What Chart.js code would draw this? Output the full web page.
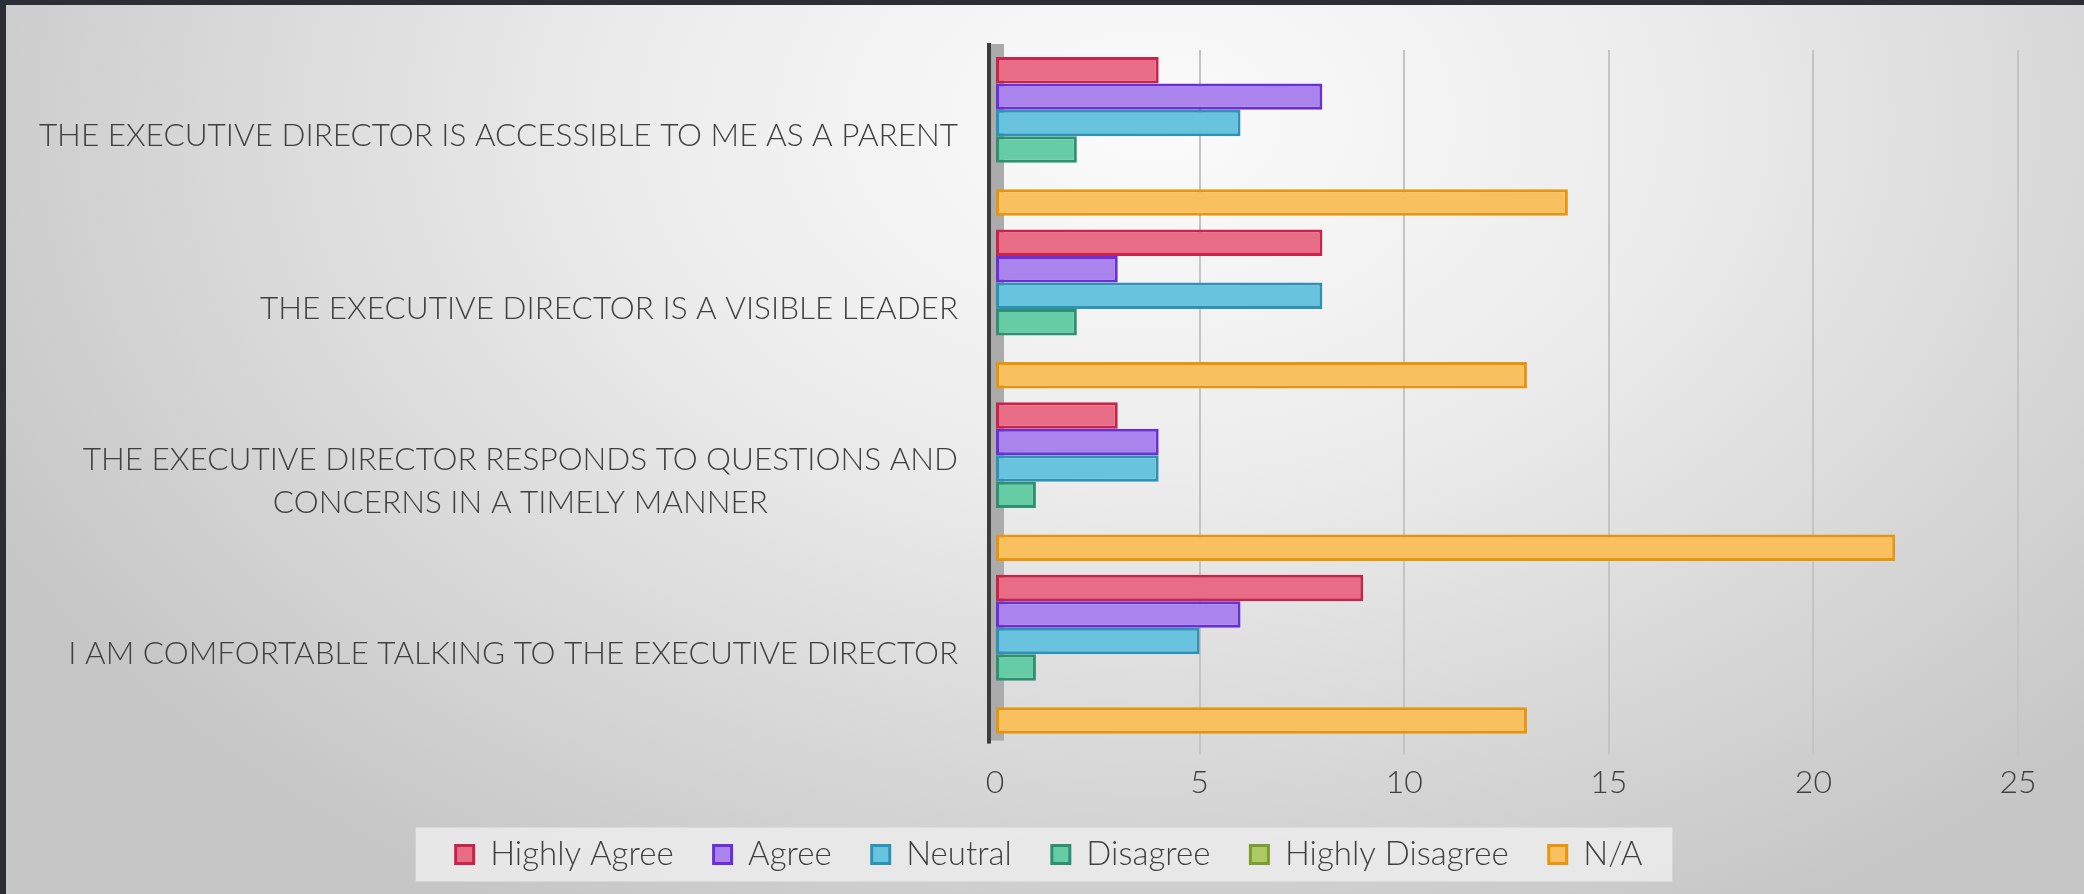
<!DOCTYPE html>
<html>
<head>
<meta charset="utf-8">
<script src="https://cdn.jsdelivr.net/npm/chart.js@4.4.1/dist/chart.umd.min.js"></script>
<style>
  html, body { margin: 0; padding: 0; overflow: hidden; }
  #wrap {
    position: relative; width: 2084px; height: 894px;
    background: radial-gradient(ellipse 1300px 900px at 1150px 120px, #fbfbfb 0%, #ececec 40%, #d6d6d6 75%, #c6c6c6 100%);
  }
  #frame-top { position: absolute; left: 0; top: 0; width: 2084px; height: 5px; background: #2b2e35; }
  #frame-left { position: absolute; left: 0; top: 0; width: 6px; height: 894px; background: #2b2e35; }
  canvas { position: absolute; left: 0; top: 0; }
</style>
</head>
<body>
<div id="wrap">
  <canvas id="chart" width="2084" height="894"></canvas>
  <div id="frame-top"></div>
  <div id="frame-left"></div>
</div>
<script>
// data
const categories = [
  'THE EXECUTIVE DIRECTOR IS ACCESSIBLE TO ME AS A PARENT',
  'THE EXECUTIVE DIRECTOR IS A VISIBLE LEADER',
  ['THE EXECUTIVE DIRECTOR RESPONDS TO QUESTIONS AND', 'CONCERNS IN A TIMELY MANNER'],
  'I AM COMFORTABLE TALKING TO THE EXECUTIVE DIRECTOR'
];
const seriesNames = ['Highly Agree', 'Agree', 'Neutral', 'Disagree', 'Highly Disagree', 'N/A'];
const highlyAgree    = [4, 8, 3, 9];
const agree          = [8, 3, 4, 6];
const neutral        = [6, 8, 4, 5];
const disagree       = [2, 2, 1, 1];
const highlyDisagree = [0, 0, 0, 0];
const notApplicable  = [14, 13, 22, 13];
const xMin = 0, xMax = 25, xStep = 5;

const fills   = ['#E96C87', '#A884EC', '#67C3DE', '#65CCA5', '#AACB64', '#F8C05F'];
const borders = ['#C8234A', '#6A2FD8', '#2E92B5', '#2E9070', '#7D9B2F', '#E5950F'];
const values  = [highlyAgree, agree, neutral, disagree, highlyDisagree, notApplicable];

const textColor = '#404040';
const labelFont = '300 31.5px Lato';

// left wall of the plot + axis line
const wallPlugin = {
  id: 'wall',
  beforeDatasetsDraw(chart) {
    const { ctx, chartArea } = chart;
    ctx.save();
    ctx.fillStyle = '#ababab';
    ctx.fillRect(chartArea.left - 5, chartArea.top - 6, 14, chartArea.bottom - chartArea.top + 6);
    ctx.fillStyle = '#3c3c3c';
    ctx.fillRect(chartArea.left - 8, chartArea.top - 7, 4, chartArea.bottom - chartArea.top + 10);
    ctx.restore();
  }
};

// category labels: block right-aligned, lines centred
const catLabelPlugin = {
  id: 'catLabels',
  afterDraw(chart) {
    const { ctx } = chart;
    const yScale = chart.scales.y;
    const rightX = chart.chartArea.left - 37;
    const lineH = 43;
    ctx.save();
    ctx.font = labelFont;
    ctx.fillStyle = textColor;
    ctx.textAlign = 'center';
    ctx.textBaseline = 'middle';
    categories.forEach((lbl, i) => {
      const lines = Array.isArray(lbl) ? lbl : [lbl];
      const w = Math.max(...lines.map(l => ctx.measureText(l).width));
      const cx = rightX - w / 2;
      const cy = yScale.getPixelForTick(i);
      lines.forEach((line, j) => {
        ctx.fillText(line, cx, cy + (j - (lines.length - 1) / 2) * lineH);
      });
    });
    ctx.restore();
  }
};

// nudge the legend (it is centred on the canvas in the original) + pale box behind it
const legendBoxPlugin = {
  id: 'legendBox',
  afterLayout(chart) {
    const lg = chart.legend;
    lg.left += 40; lg.right += 40;
    lg.top -= 13; lg.bottom -= 13;
  },
  beforeDraw(chart) {
    const boxes = chart.legend.legendHitBoxes;
    if (!boxes || !boxes.length) return;
    const minX = Math.min(...boxes.map(b => b.left));
    const maxX = Math.max(...boxes.map(b => b.left + b.width));
    const cy = boxes[0].top + boxes[0].height / 2;
    const { ctx } = chart;
    ctx.save();
    ctx.fillStyle = 'rgba(236,236,236,0.85)';
    ctx.fillRect(minX - 40, cy - 27, maxX - minX + 70, 54);
    ctx.restore();
  }
};

const ctx = document.getElementById('chart').getContext('2d');
const chart = new Chart(ctx, {
  type: 'bar',
  data: {
    labels: categories,
    datasets: seriesNames.map((name, i) => ({
      label: name,
      data: values[i],
      backgroundColor: fills[i],
      borderColor: borders[i],
      borderWidth: 3,
      borderSkipped: false,
      categoryPercentage: 0.92,
      barPercentage: 1.0
    }))
  },
  options: {
    indexAxis: 'y',
    responsive: false,
    devicePixelRatio: 1,
    animation: false,
    layout: { padding: { top: 50, right: 66, left: 0, bottom: 0 } },
    scales: {
      y: {
        ticks: { display: false },
        grid: { display: false },
        border: { display: false },
        afterFit(scale) { scale.width = 995; }
      },
      x: {
        min: xMin,
        max: xMax,
        ticks: {
          stepSize: xStep,
          color: textColor,
          font: { family: 'Lato', weight: '300', size: 32 },
          padding: 9
        },
        grid: {
          color: c => (c.tick && c.tick.value === 0) ? 'rgba(0,0,0,0)' : '#c4c4c4',
          lineWidth: 2,
          tickLength: 14
        },
        border: { display: false }
      }
    },
    plugins: {
      legend: {
        position: 'bottom',
        labels: {
          boxWidth: 18,
          boxHeight: 18,
          padding: 40,
          color: textColor,
          font: { family: 'Lato', weight: '300', size: 33 }
        }
      },
      tooltip: { enabled: false }
    }
  },
  plugins: [legendBoxPlugin, wallPlugin, catLabelPlugin]
});
</script>
</body>
</html>
